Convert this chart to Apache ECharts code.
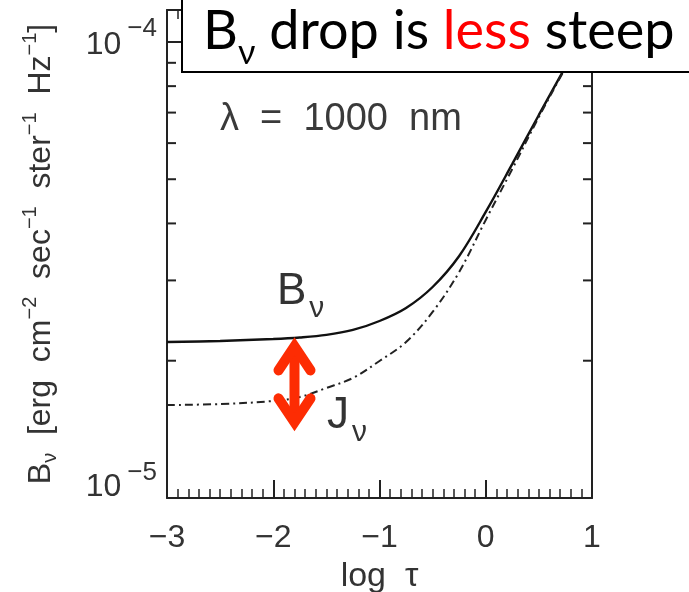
<!DOCTYPE html>
<html><head><meta charset="utf-8">
<script src="https://cdn.jsdelivr.net/npm/echarts@6/dist/echarts.min.js"></script>
<style>html,body{margin:0;padding:0;background:#fff}#c{width:689px;height:592px}</style>
</head><body><div id="c"></div>
<script>
// ---- data ----
const logTau = [-3, -2.5, -2, -1.75, -1.5, -1.25, -1, -0.75, -0.5, -0.25, 0, 0.25, 0.5, 0.75, 1];
const bNu = [2.198e-5, 2.21e-5, 2.232e-5, 2.249e-5, 2.278e-5, 2.336e-5, 2.444e-5, 2.61e-5, 2.902e-5, 3.394e-5, 4.239e-5, 5.402e-5, 6.917e-5, 8.816e-5, 1.123e-4];
const jNu = [1.599e-5, 1.607e-5, 1.632e-5, 1.665e-5, 1.743e-5, 1.833e-5, 1.997e-5, 2.198e-5, 2.558e-5, 3.131e-5, 4.071e-5, 5.267e-5, 6.847e-5, 8.77e-5, 1.117e-4];
const xMin = -3, xMax = 1, xInterval = 1;
const yMin = 1e-5, yMax = 1.175e-4;
const yMinorTicks = [2e-5, 3e-5, 4e-5, 5e-5, 6e-5, 7e-5, 8e-5, 9e-5];
const arrowX = [-1.8];
const arrowTop = [2.25e-5];
const arrowBottom = [1.40e-5];

const txt = '#333';
const axisCol = '#222';
const font = 'Liberation Sans';

const chart = echarts.init(document.getElementById('c'), null, {renderer: 'canvas'});

const yFormatter = v => {
  const l = Math.log10(v);
  const e = Math.round(l);
  if (Math.abs(l - e) > 1e-6) return '';
  const s = '\u2212' + (-e);
  return e === -5 ? '{a5|10}{b5|' + s + '}' : '{a|10}{b|' + s + '}';
};

const option = {
  backgroundColor: '#fff',
  animation: false,
  grid: {left: 167, right: 97, top: 10, bottom: 94, outerBoundsMode: 'none'},
  xAxis: [{
    type: 'value', min: xMin, max: xMax, interval: xInterval, position: 'bottom',
    name: 'log  \u03c4', nameLocation: 'middle', nameGap: 62,
    nameTextStyle: {fontFamily: font, fontSize: 34, color: txt},
    axisLine: {onZero: false, lineStyle: {color: axisCol, width: 2}},
    axisTick: {inside: true, length: 18, lineStyle: {color: axisCol, width: 2}},
    minorTick: {show: true, splitNumber: 10, length: 9, lineStyle: {color: axisCol, width: 1.5}},
    splitLine: {show: false}, minorSplitLine: {show: false},
    axisLabel: {margin: 24, fontFamily: font, fontSize: 32, color: txt,
      formatter: v => (v < 0 ? '\u2212' + Math.abs(v) : String(v))}
  }, {
    type: 'value', min: xMin, max: xMax, interval: xInterval, position: 'top',
    axisLine: {onZero: false, lineStyle: {color: axisCol, width: 2}},
    axisTick: {inside: true, length: 18, lineStyle: {color: axisCol, width: 2}},
    minorTick: {show: true, splitNumber: 10, length: 9, lineStyle: {color: axisCol, width: 1.5}},
    splitLine: {show: false}, axisLabel: {show: false}
  }],
  yAxis: [{
    type: 'log', min: yMin, max: yMax, logBase: 10, position: 'left',
    name: '{t|B}{ts|\u03bd}{t|  [erg  cm}{tp|\u22122}{t|  sec}{tp|\u22121}{t|  ster}{tp|\u22121}{t|  Hz}{tp|\u22121}{t|]}',
    nameLocation: 'middle', nameGap: 105, nameMoveOverlap: false,
    nameTextStyle: {fontFamily: font, fontSize: 32, color: txt,
      rich: {
        t: {fontFamily: font, fontSize: 32, color: txt},
        ts: {fontFamily: font, fontSize: 20, color: txt, padding: [18, 0, 0, 0]},
        tp: {fontFamily: font, fontSize: 20, color: txt, padding: [0, 0, 22, 0]}
      }},
    axisLine: {onZero: false, lineStyle: {color: axisCol, width: 2}},
    axisTick: {inside: true, length: 18, lineStyle: {color: axisCol, width: 2}},
    splitLine: {show: false},
    axisLabel: {margin: 10, formatter: yFormatter, color: txt, fontFamily: font, fontSize: 32,
      rich: {
        a: {fontFamily: font, fontSize: 32, color: txt, padding: [6, 0, 0, 0]},
        b: {fontFamily: font, fontSize: 26, color: txt, padding: [0, 0, 26, 6]},
        a5: {fontFamily: font, fontSize: 32, color: txt, padding: [0, 0, 22, 0]},
        b5: {fontFamily: font, fontSize: 26, color: txt, padding: [0, 0, 50, 6]}
      }}
  }, {
    type: 'log', min: yMin, max: yMax, logBase: 10, position: 'right',
    axisLine: {onZero: false, lineStyle: {color: axisCol, width: 2}},
    axisTick: {inside: true, length: 18, lineStyle: {color: axisCol, width: 2}},
    splitLine: {show: false}, axisLabel: {show: false}
  }],
  series: [{
    type: 'line', name: 'B', xAxisIndex: 0, yAxisIndex: 0,
    data: logTau.map((x, i) => [x, bNu[i]]),
    smooth: 0.35, showSymbol: false, symbol: 'none',
    lineStyle: {color: '#111', width: 2.4}, z: 3
  }, {
    type: 'line', name: 'J', xAxisIndex: 0, yAxisIndex: 0,
    data: logTau.map((x, i) => [x, jNu[i]]),
    smooth: 0.35, showSymbol: false, symbol: 'none',
    lineStyle: {color: '#222', width: 2, type: [8, 4, 2, 4]}, z: 3
  }, {
    type: 'custom', name: 'minorY', xAxisIndex: 0, yAxisIndex: 0, silent: true,
    encode: {x: 0, y: 1},
    data: yMinorTicks.map(v => [xMin, v]),
    renderItem: (params, api) => {
      const cs = params.coordSys;
      const y = api.coord([api.value(0), api.value(1)])[1];
      const st = {stroke: axisCol, lineWidth: 2};
      return {type: 'group', children: [
        {type: 'line', shape: {x1: cs.x, y1: y, x2: cs.x + 9, y2: y}, style: st},
        {type: 'line', shape: {x1: cs.x + cs.width - 9, y1: y, x2: cs.x + cs.width, y2: y}, style: st}
      ]};
    }, z: 4
  }, {
    type: 'custom', name: 'arrow', xAxisIndex: 0, yAxisIndex: 0, silent: true,
    encode: {x: 0, y: [1, 2]},
    data: arrowX.map((x, i) => [x, arrowTop[i], arrowBottom[i]]),
    renderItem: (params, api) => {
      const t = api.coord([api.value(0), api.value(1)]);
      const b = api.coord([api.value(0), api.value(2)]);
      const st = {stroke: '#fd2c03', lineWidth: 10, lineCap: 'round', lineJoin: 'miter', fill: null};
      return {type: 'group', children: [
        {type: 'line', shape: {x1: t[0], y1: t[1] + 12, x2: b[0], y2: b[1] - 12}, style: st},
        {type: 'polyline', shape: {points: [[t[0] - 16, t[1] + 33], [t[0], t[1] + 9], [t[0] + 16, t[1] + 33]]}, style: st},
        {type: 'polyline', shape: {points: [[b[0] - 16, b[1] - 33], [b[0], b[1] - 9], [b[0] + 16, b[1] - 33]]}, style: st}
      ]};
    }, z: 5
  }],
  graphic: [
    {type: 'text', z: 10, silent: true, position: [220, 120],
      style: {x: 0, y: 0, text: '\u03bb  =  1000  nm', fontFamily: font, fontSize: 38, fill: '#3a3a3a', verticalAlign: 'middle', align: 'left'}},
    {type: 'text', z: 10, silent: true, position: [277, 292],
      style: {x: 0, y: 0, text: '{m|B}{s|\u03bd}', verticalAlign: 'middle', align: 'left',
        rich: {m: {fontFamily: font, fontSize: 44, fill: '#333'}, s: {fontFamily: font, fontSize: 30, fill: '#333', padding: [34, 0, 0, 3]}}}},
    {type: 'text', z: 10, silent: true, position: [327, 416],
      style: {x: 0, y: 0, text: '{m|J}{s|\u03bd}', verticalAlign: 'middle', align: 'left',
        rich: {m: {fontFamily: font, fontSize: 44, fill: '#333'}, s: {fontFamily: font, fontSize: 30, fill: '#333', padding: [34, 0, 0, 3]}}}},
    {type: 'rect', z: 20, silent: true, shape: {x: 182, y: -5, width: 520, height: 77},
      style: {fill: '#fff', stroke: '#000', lineWidth: 2}},
    {type: 'text', z: 21, silent: true, position: [203, 32],
      style: {x: 0, y: 0, text: '{m|B}{s|\u03bd}{m| drop is }{r|less}{m| steep}', verticalAlign: 'middle', align: 'left',
        rich: {
          m: {fontFamily: 'Lato', fontSize: 54, fill: '#000'},
          s: {fontFamily: 'Lato', fontSize: 34, fill: '#000', padding: [42, 0, 0, 0]},
          r: {fontFamily: 'Lato', fontSize: 54, fill: '#ff0000'}
        }}}
  ]
};
chart.setOption(option);
</script></body></html>
